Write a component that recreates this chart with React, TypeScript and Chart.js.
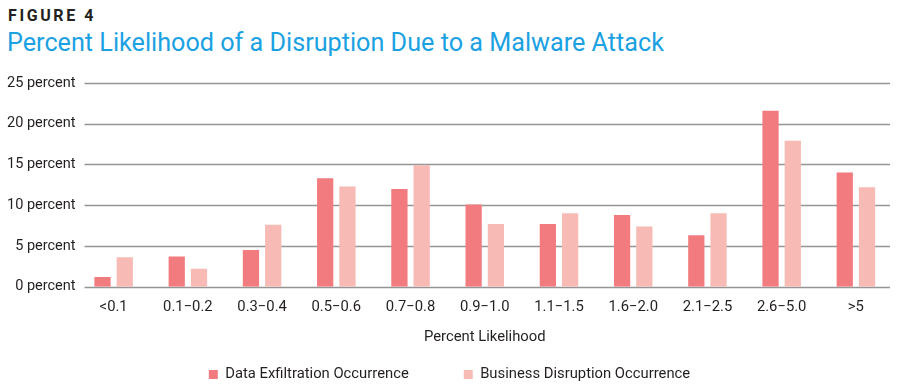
import React, { useEffect, useRef } from "react";
import { Chart, registerables } from "chart.js";

Chart.register(...registerables);

const categories = ["<0.1", "0.1\u22120.2", "0.3\u22120.4", "0.5\u22120.6", "0.7\u22120.8", "0.9\u22121.0", "1.1\u22121.5", "1.6\u22122.0", "2.1\u22122.5", "2.6\u22125.0", ">5"];
const dataExfiltration = [1.2, 3.7, 4.5, 13.3, 12.0, 10.1, 7.7, 8.8, 6.3, 21.6, 14.0];
const businessDisruption = [3.6, 2.2, 7.6, 12.3, 14.9, 7.7, 9.0, 7.4, 9.0, 17.9, 12.2];
const yTicks = [0, 5, 10, 15, 20, 25];

const FONT = "Roboto, 'Liberation Sans', sans-serif";
const FS = 14.5;
const FS2 = 14.8;

const gridPlugin = {
  id: "insetGrid",
  beforeDatasetsDraw(chart: any) {
    const { ctx, chartArea, scales } = chart;
    ctx.save();
    ctx.strokeStyle = "#959595";
    ctx.lineWidth = 1.3;
    for (const v of yTicks) {
      const y = Math.round(scales.y.getPixelForValue(v)) + 0.5;
      ctx.beginPath();
      ctx.moveTo(chartArea.left + 8, y);
      ctx.lineTo(chartArea.right - 3, y);
      ctx.stroke();
    }
    ctx.restore();
  },
};

export default function App() {
  const ref = useRef<HTMLCanvasElement | null>(null);
  useEffect(() => {
    document.body.style.margin = "0";
    const chart = new Chart(ref.current!, {
      type: "bar",
      data: {
        labels: categories,
        datasets: [
          { label: "Data Exfiltration Occurrence", data: dataExfiltration, backgroundColor: "#F27B80", categoryPercentage: 0.6, barPercentage: 0.73 },
          { label: "Business Disruption Occurrence", data: businessDisruption, backgroundColor: "#F8BAB5", categoryPercentage: 0.6, barPercentage: 0.73 },
        ],
      },
      plugins: [gridPlugin],
      options: {
        animation: false,
        responsive: false,
        maintainAspectRatio: false,
        layout: { padding: { top: 13, right: 7, left: 6, bottom: 3 } },
        plugins: {
          tooltip: { enabled: false },
          legend: {
            position: "bottom",
            labels: { boxWidth: 9, boxHeight: 9, color: "#231f20", font: { family: FONT, size: FS2 }, padding: 55 },
          },
        },
        scales: {
          x: {
            grid: { display: false },
            border: { display: false },
            ticks: { color: "#231f20", font: { family: FONT, size: FS2 }, padding: 4, maxRotation: 0, autoSkip: false },
            title: { display: true, text: "Percent Likelihood", color: "#231f20", font: { family: FONT, size: FS2 }, padding: { top: 8, bottom: -34 } },
          },
          y: {
            min: 0,
            max: 25,
            afterBuildTicks: (axis: any) => { axis.ticks = yTicks.map((v) => ({ value: v })); },
            grid: { display: false, drawTicks: false },
            border: { display: false },
            ticks: { color: "#231f20", font: { family: FONT, size: FS }, padding: 1, callback: (v: any) => v + " percent" },
          },
        },
      },
    });
    return () => chart.destroy();
  }, []);
  return (
    <div style={{ position: "relative", width: 900, height: 389, overflow: "hidden", background: "#fff" }}>
      <div style={{ position: "absolute", left: 8, top: 6, fontFamily: FONT, fontWeight: 700, fontSize: 16, letterSpacing: 2.6, color: "#231f20", lineHeight: "normal" }}>FIGURE 4</div>
      <div style={{ position: "absolute", left: 7, top: 28, fontFamily: FONT, fontSize: 25.2, color: "#1BA1E2", whiteSpace: "nowrap", lineHeight: "normal" }}>Percent Likelihood of a Disruption Due to a Malware Attack</div>
      <canvas ref={ref} width={900} height={325} style={{ position: "absolute", left: 0, top: 70, width: 900, height: 325 }} />
    </div>
  );
}
